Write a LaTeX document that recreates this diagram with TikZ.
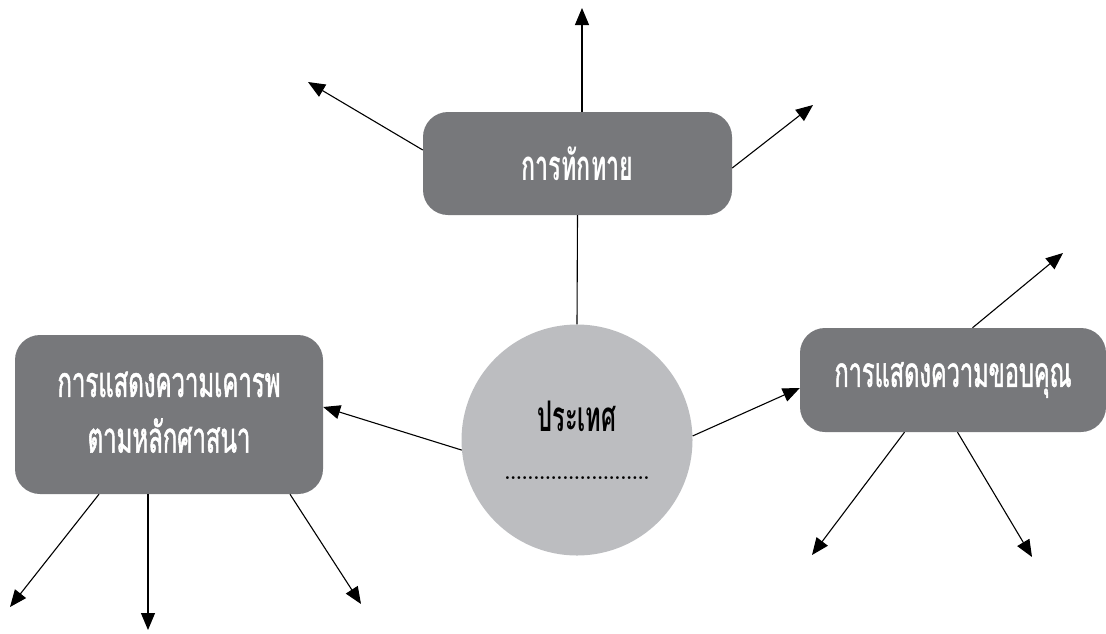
\documentclass[tikz,border=0pt]{standalone}
\usepackage{fontspec}
\usepackage{graphicx}
\usetikzlibrary{arrows.meta}
\newfontfamily\thai[Script=Thai,FakeStretch=0.56]{Loma}
\newfontfamily\thaimid[Script=Thai,FakeStretch=0.56,FakeBold=1.2]{Loma}
\definecolor{boxgray}{HTML}{77787B}
\definecolor{circgray}{HTML}{BCBDC0}
\tikzset{
  gbox/.style={draw=none, fill=boxgray, rounded corners=25pt, inner sep=0pt,
    text=white, align=center},
  hub/.style={circle, draw=none, fill=circgray, inner sep=0pt, minimum size=231pt,
    align=center},
  arr/.style={line width=1.1pt, -{Triangle[length=17pt,width=14pt]}},
  link/.style={line width=1.1pt},
}
\begin{document}
\begin{tikzpicture}[x=1pt,y=-1pt]
\useasboundingbox (0,0) rectangle (1106,633);
% boxes
\node[gbox, minimum width=309pt, minimum height=103pt] (top) at (577.5,163.5)
  {\raisebox{-4pt}{\resizebox{112pt}{!}{\thai\bfseries การทักทาย}}};
\node[gbox, minimum width=308pt, minimum height=159pt] (lbox) at (169,414.5)
  {\resizebox{223pt}{!}{\thaimid\begin{tabular}{@{}c@{}}การแสดงความเคารพ\\[1pt]ตามหลักศาสนา\end{tabular}}};
\node[gbox, minimum width=306pt, minimum height=104pt] (rbox) at (953,380)
  {\resizebox{237pt}{!}{\thaimid การแสดงความขอบคุณ}};
\node[hub] (circ) at (577,440)
  {\resizebox{79pt}{!}{\thai\bfseries ประเทศ}\\[36pt]{\bfseries\resizebox{145pt}{!}{.........................}}};
% free ends
\coordinate (tU) at (582,8);
\coordinate (tL) at (308,82);
\coordinate (tR) at (813,105);
\coordinate (rU) at (1063,253);
\coordinate (rL) at (812,555);
\coordinate (rR) at (1032,557);
\coordinate (lL) at (10,607);
\coordinate (lD) at (148,630);
\coordinate (lR) at (361,604);
% connectors
\draw[arr] ([xshift=4.5pt]top.north) -- (tU);
\draw[arr] ([yshift=13.5pt]top.west) -- (tL);
\draw[arr] ([yshift=-4.5pt]top.east) -- (tR);
\draw[link] (top.south) -- (circ.north);
\draw[arr] (circ.185) -- ([yshift=7.5pt]lbox.east);
\draw[arr] (circ.2) -- ([yshift=-8pt]rbox.west);
\draw[arr] ([xshift=19.5pt]rbox.north) -- (rU);
\draw[arr] ([xshift=-48.5pt]rbox.south) -- (rL);
\draw[arr] ([xshift=4.5pt]rbox.south) -- (rR);
\draw[arr] ([xshift=-70pt]lbox.south) -- (lL);
\draw[arr] ([xshift=-21pt]lbox.south) -- (lD);
\draw[arr] ([xshift=121pt]lbox.south) -- (lR);
\end{tikzpicture}
\end{document}
